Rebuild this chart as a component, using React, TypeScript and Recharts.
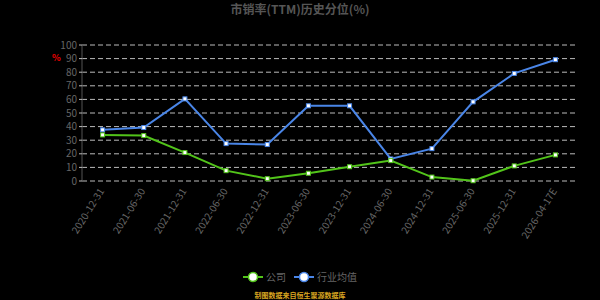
import React from "react";
import { LineChart, Line, CartesianGrid, XAxis, YAxis } from "recharts";

// 报告期
const periods = [
  "2020-12-31",
  "2021-06-30",
  "2021-12-31",
  "2022-06-30",
  "2022-12-31",
  "2023-06-30",
  "2023-12-31",
  "2024-06-30",
  "2024-12-31",
  "2025-06-30",
  "2025-12-31",
  "2026-04-17E",
];

// 公司 市销率历史分位
const companyPct = [33.9, 33.4, 20.9, 7.6, 1.7, 5.7, 10.5, 15.0, 2.9, 0.2, 11.1, 19.2];
// 行业均值
const industryPct = [37.6, 39.3, 60.4, 27.5, 26.8, 55.3, 55.3, 16.2, 23.8, 58.2, 79.1, 89.2];

const yTicks = [0, 10, 20, 30, 40, 50, 60, 70, 80, 90, 100];
// 类目边界刻度（echarts 风格，刻度线在类目之间）
const boundaryTicks = periods.map((_, i) => i).concat(periods.length);

const seriesNames = { company: "公司", industry: "行业均值" };
const GREEN = "#52c41a";
const BLUE = "#4a86e8";
const FONT = '"Noto Sans CJK SC", "Noto Sans", sans-serif';

const data = periods.map((p, i) => ({
  name: p,
  company: companyPct[i],
  industry: industryPct[i],
}));

// 小方块点
const squareDot = (color: string) => (props: any) => {
  const { cx, cy, index } = props;
  if (cx == null || cy == null) return null;
  return (
    <rect
      key={index}
      x={cx - 2}
      y={cy - 2}
      width={4}
      height={4}
      fill="#fff"
      stroke={color}
      strokeWidth={1}
    />
  );
};

const XTick = (props: any) => {
  const { x, y, payload } = props;
  return (
    <text
      x={x + 2}
      y={y + 4}
      transform={`rotate(-58, ${x + 2}, ${y + 4})`}
      textAnchor="end"
      fill="#666"
      fontSize={10}
      fontFamily={FONT}
    >
      {payload.value}
    </text>
  );
};

const LegendItem = ({ color, label }: { color: string; label: string }) => (
  <span style={{ display: "inline-flex", alignItems: "center", marginRight: 8 }}>
    <svg width={20} height={12} style={{ marginRight: 3 }}>
      <line x1={0} y1={6} x2={20} y2={6} stroke={color} strokeWidth={2} />
      <circle cx={10} cy={6} r={4.5} fill="#fff" stroke={color} strokeWidth={1.5} />
    </svg>
    <span style={{ color: "#666", fontSize: 10 }}>{label}</span>
  </span>
);

export default function App() {
  return (
    <div
      style={{
        position: "relative",
        width: 600,
        height: 300,
        background: "#000",
        fontFamily: FONT,
        overflow: "hidden",
      }}
    >
      <style>{`body{margin:0;background:#000}`}</style>

      <div
        style={{
          position: "absolute",
          top: 1,
          left: 0,
          width: 600,
          textAlign: "center",
          color: "#555",
          fontSize: 12,
          fontWeight: "bold",
          lineHeight: "16px",
        }}
      >
        市销率(TTM)历史分位(%)
      </div>

      <LineChart
        width={600}
        height={300}
        data={data}
        margin={{ top: 45, right: 24, bottom: 0, left: 0 }}
      >
        <CartesianGrid
          horizontal
          vertical={false}
          stroke="#bbb"
          strokeDasharray="5 3"
        />
        <XAxis
          xAxisId="bounds"
          type="number"
          domain={[0, periods.length]}
          ticks={boundaryTicks}
          interval={0}
          height={0}
          tick={false}
          tickSize={4}
          axisLine={{ stroke: "#777", strokeDasharray: "5 3" }}
          tickLine={{ stroke: "#777" }}
        />
        <XAxis
          xAxisId="cat"
          dataKey="name"
          scale="band"
          height={119}
          interval={0}
          tick={<XTick />}
          tickSize={4}
          axisLine={false}
          tickLine={false}
        />
        <YAxis
          width={82}
          domain={[0, 100]}
          ticks={yTicks}
          interval={0}
          tickSize={3}
          tickMargin={2}
          axisLine={{ stroke: "#555" }}
          tickLine={{ stroke: "#bbb" }}
          tick={{ fill: "#666", fontSize: 10, fontFamily: FONT }}
        />
        <Line
          xAxisId="cat"
          dataKey="industry"
          name={seriesNames.industry}
          stroke={BLUE}
          strokeWidth={2}
          dot={squareDot(BLUE)}
          isAnimationActive={false}
        />
        <Line
          xAxisId="cat"
          dataKey="company"
          name={seriesNames.company}
          stroke={GREEN}
          strokeWidth={2}
          dot={squareDot(GREEN)}
          isAnimationActive={false}
        />
      </LineChart>

      <div
        style={{
          position: "absolute",
          left: 52,
          top: 51,
          color: "#e00",
          fontSize: 9,
          fontWeight: "bold",
        }}
      >
        %
      </div>

      <div
        style={{
          position: "absolute",
          top: 269,
          left: 0,
          width: 600,
          display: "flex",
          justifyContent: "center",
          paddingLeft: 8,
          boxSizing: "border-box",
        }}
      >
        <LegendItem color={GREEN} label={seriesNames.company} />
        <LegendItem color={BLUE} label={seriesNames.industry} />
      </div>

      <div
        style={{
          position: "absolute",
          top: 290,
          left: 0,
          width: 600,
          textAlign: "center",
          color: "#d9a520",
          fontSize: 7,
          fontWeight: "bold",
          lineHeight: "10px",
        }}
      >
        制图数据来自恒生聚源数据库
      </div>
    </div>
  );
}
